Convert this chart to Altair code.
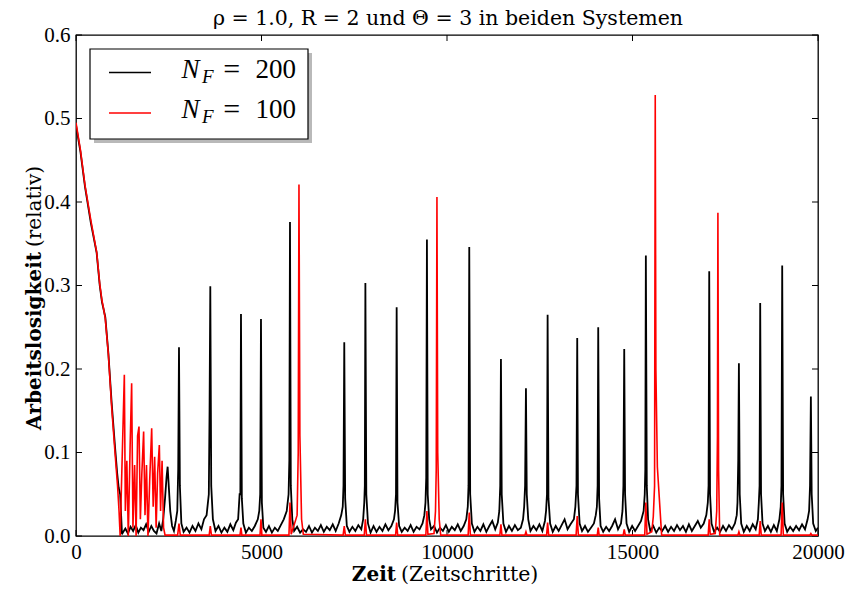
import altair as alt
import pandas as pd

# ---------------- data ----------------
t_black = [0, 120, 243, 400, 557, 640, 700, 736, 790, 872, 960, 1051, 1110, 1150, 1190, 1240,
           1260, 1330, 1400, 1470, 1540, 1610, 1680, 1750, 1820, 1890, 1960, 2030, 2100, 2170, 2240, 2300,
           2350, 2400, 2440, 2470, 2500, 2540, 2590, 2640, 2690,
           2730, 2755, 2776, 2800, 2840, 2900,
           2980, 3060, 3140, 3220, 3300, 3380, 3450,
           3520, 3580, 3600, 3620, 3645, 3690, 3760,
           3840, 3920, 4000, 4080, 4160, 4240, 4310,
           4370, 4410, 4430, 4447, 4470, 4510, 4580,
           4660, 4740, 4820, 4900,
           4940, 4965, 4986, 5010, 5050, 5120,
           5200, 5280, 5360, 5440, 5520, 5600,
           5680, 5730, 5750, 5768, 5790, 5830, 5880,
           5960, 6040, 6120, 6200, 6280, 6360, 6440, 6520, 6600, 6680, 6760, 6840, 6920, 7000, 7080, 7150,
           7190, 7210, 7231, 7255, 7300, 7370,
           7450, 7530, 7610, 7690, 7740,
           7770, 7785, 7800, 7825, 7870, 7940,
           8020, 8100, 8180, 8260, 8340, 8420, 8500, 8570,
           8600, 8625, 8643, 8665, 8710, 8780,
           8860, 8940, 9020, 9100, 9180, 9260, 9340, 9390,
           9420, 9440, 9459, 9480, 9520, 9570,
           9650, 9730, 9810, 9890, 9970, 10050, 10130, 10210, 10290, 10370, 10450, 10520,
           10560, 10580, 10600, 10625, 10670, 10740,
           10820, 10900, 10980, 11060, 11140, 11220, 11300, 11370,
           11410, 11435, 11454, 11475, 11520, 11590,
           11670, 11750, 11830, 11910, 11990, 12050,
           12080, 12105, 12128, 12150, 12190, 12250,
           12330, 12410, 12490, 12570, 12640,
           12670, 12695, 12712, 12735, 12780, 12850,
           12930, 13010, 13090, 13170, 13250, 13330, 13420,
           13460, 13490, 13510, 13530, 13575, 13640,
           13720, 13800, 13880, 13960, 14010,
           14040, 14060, 14076, 14100, 14140, 14210,
           14290, 14370, 14450, 14530, 14610, 14690,
           14730, 14755, 14777, 14800, 14840, 14910,
           14990, 15070, 15150, 15230, 15300,
           15330, 15345, 15360, 15385, 15420, 15480,
           15560, 15640, 15720, 15800, 15880, 15960, 16040, 16120, 16200, 16280, 16360, 16440, 16520,
           16600, 16680, 16760, 16840, 16920, 16990,
           17030, 17050, 17068, 17090, 17130, 17200,
           17280, 17360, 17440, 17520, 17600, 17680, 17760, 17810,
           17830, 17850, 17868, 17890, 17930, 18000,
           18080, 18160, 18240, 18320, 18380,
           18405, 18425, 18442, 18465, 18505, 18570,
           18650, 18730, 18810, 18890, 18960,
           18995, 19015, 19035, 19060, 19100, 19170,
           19250, 19330, 19410, 19490, 19570, 19650, 19720,
           19760, 19785, 19808, 19830, 19870, 19940, 20000]
v_black = [0.492, 0.46, 0.418, 0.375, 0.339, 0.30, 0.28, 0.273, 0.262, 0.219, 0.16, 0.107, 0.075, 0.058, 0.05, 0.002,
           0.004, 0.009, 0.003, 0.011, 0.006, 0.013, 0.004, 0.010, 0.007, 0.014, 0.005, 0.012, 0.006, 0.003, 0.015, 0.006,
           0.02, 0.045, 0.07, 0.083, 0.06, 0.03, 0.012, 0.006, 0.018,
           0.03, 0.08, 0.226, 0.06, 0.015, 0.005,
           0.010, 0.004, 0.012, 0.006, 0.015, 0.008, 0.02,
           0.025, 0.05, 0.15, 0.299, 0.06, 0.02, 0.006,
           0.012, 0.004, 0.010, 0.005, 0.014, 0.007, 0.016,
           0.02, 0.05, 0.05, 0.266, 0.045, 0.015, 0.004,
           0.010, 0.006, 0.012, 0.02,
           0.03, 0.05, 0.26, 0.04, 0.010, 0.005,
           0.012, 0.004, 0.010, 0.006, 0.013, 0.02,
           0.03, 0.05, 0.09, 0.376, 0.06, 0.02, 0.006,
           0.011, 0.004, 0.008, 0.005, 0.012, 0.004, 0.010, 0.006, 0.013, 0.005, 0.011, 0.007, 0.014, 0.006, 0.015, 0.025,
           0.035, 0.06, 0.232, 0.045, 0.012, 0.005,
           0.011, 0.006, 0.013, 0.008, 0.02,
           0.04, 0.06, 0.303, 0.05, 0.015, 0.004,
           0.012, 0.005, 0.011, 0.006, 0.014, 0.007, 0.012, 0.02,
           0.03, 0.05, 0.274, 0.04, 0.012, 0.005,
           0.010, 0.006, 0.013, 0.005, 0.011, 0.008, 0.015, 0.025,
           0.04, 0.07, 0.355, 0.05, 0.02, 0.008,
           0.012, 0.004, 0.010, 0.006, 0.013, 0.005, 0.011, 0.007, 0.014, 0.006, 0.012, 0.02,
           0.035, 0.06, 0.346, 0.05, 0.015, 0.005,
           0.011, 0.006, 0.014, 0.005, 0.012, 0.018, 0.008, 0.016,
           0.03, 0.06, 0.212, 0.05, 0.015, 0.005,
           0.012, 0.006, 0.013, 0.007, 0.010, 0.02,
           0.035, 0.06, 0.177, 0.05, 0.02, 0.006,
           0.012, 0.007, 0.014, 0.006, 0.018,
           0.03, 0.05, 0.265, 0.045, 0.015, 0.005,
           0.012, 0.006, 0.013, 0.02, 0.008, 0.014, 0.02,
           0.035, 0.06, 0.237, 0.05, 0.015, 0.006,
           0.012, 0.005, 0.010, 0.015, 0.025,
           0.035, 0.06, 0.25, 0.045, 0.012, 0.005,
           0.011, 0.006, 0.012, 0.02, 0.008, 0.015,
           0.03, 0.06, 0.224, 0.05, 0.015, 0.005,
           0.012, 0.006, 0.012, 0.018, 0.03,
           0.05, 0.08, 0.336, 0.06, 0.02, 0.006,
           0.012, 0.004, 0.010, 0.006, 0.012, 0.005, 0.011, 0.006, 0.013, 0.007, 0.012, 0.005, 0.014,
           0.006, 0.012, 0.018, 0.010, 0.015, 0.025,
           0.04, 0.06, 0.317, 0.05, 0.015, 0.005,
           0.010, 0.005, 0.012, 0.006, 0.013, 0.008, 0.015, 0.025,
           0.04, 0.09, 0.207, 0.05, 0.015, 0.005,
           0.012, 0.006, 0.014, 0.008, 0.02,
           0.04, 0.06, 0.279, 0.05, 0.015, 0.006,
           0.012, 0.005, 0.013, 0.006, 0.02,
           0.035, 0.06, 0.324, 0.05, 0.015, 0.005,
           0.011, 0.006, 0.012, 0.007, 0.014, 0.008, 0.02,
           0.03, 0.06, 0.167, 0.05, 0.015, 0.006, 0.010]

t_red = [0, 120, 243, 400, 557, 640, 700, 736, 790, 872, 960, 1051, 1120, 1160, 1190,
         1303, 1330, 1370, 1410, 1460, 1500, 1535, 1580, 1620, 1660, 1698, 1735, 1775, 1823, 1860,
         1900, 1940, 1985, 2040, 2080, 2120, 2160, 2200, 2246, 2280, 2320, 2360, 2400,
         2740, 2776, 2810, 3590, 3620, 3650, 4420, 4447, 4470, 4960, 4986, 5010,
         5740, 5768, 5800, 5920, 5960, 5990, 6010, 6035, 6080, 6127,
         7200, 7231, 7260, 7770, 7800, 7830, 8615, 8643, 8670, 9430, 9459, 9485,
         9650, 9690, 9710, 9729, 9750, 9790, 9830,
         10570, 10600, 10630, 11425, 11454, 11480, 12100, 12128, 12155, 12685, 12712, 12740,
         13480, 13510, 13540, 14050, 14076, 14100, 14750, 14777, 14805, 15330, 15360, 15390,
         15520, 15560, 15595, 15613, 15630, 15670, 15785,
         17040, 17068, 17095, 17230, 17270, 17290, 17302, 17320, 17350,
         17840, 17868, 17895, 18415, 18442, 18470, 19005, 19035, 19065, 19780, 19808, 19835, 20000]
v_red = [0.495, 0.462, 0.42, 0.378, 0.34, 0.302, 0.282, 0.274, 0.26, 0.218, 0.155, 0.10, 0.06, 0.03, 0.0,
         0.193, 0.03, 0.09, 0.0, 0.11, 0.183, 0.01, 0.085, 0.0, 0.12, 0.131, 0.02, 0.075, 0.125, 0.025,
         0.085, 0.0, 0.065, 0.129, 0.035, 0.095, 0.01, 0.075, 0.109, 0.03, 0.09, 0.01, 0.001,
         0.001, 0.015, 0.001, 0.001, 0.012, 0.001, 0.001, 0.010, 0.001, 0.001, 0.02, 0.001,
         0.001, 0.04, 0.002, 0.019, 0.025, 0.1, 0.421, 0.12, 0.02, 0.002,
         0.001, 0.012, 0.001, 0.001, 0.02, 0.001, 0.001, 0.016, 0.001, 0.001, 0.03, 0.002,
         0.003, 0.03, 0.08, 0.406, 0.1, 0.02, 0.001,
         0.001, 0.028, 0.001, 0.001, 0.014, 0.001, 0.001, 0.005, 0.001, 0.001, 0.016, 0.001,
         0.001, 0.024, 0.001, 0.001, 0.010, 0.001, 0.001, 0.008, 0.001, 0.001, 0.04, 0.002,
         0.005, 0.023, 0.06, 0.528, 0.2, 0.083, 0.001,
         0.001, 0.02, 0.002, 0.003, 0.03, 0.12, 0.387, 0.08, 0.001,
         0.001, 0.005, 0.001, 0.001, 0.018, 0.001, 0.001, 0.04, 0.001, 0.001, 0.003, 0.001, 0.001]

x_ticks = [0, 5000, 10000, 15000, 20000]
y_ticks = [0.0, 0.1, 0.2, 0.3, 0.4, 0.5, 0.6]

title_text = "ρ = 1.0, R = 2 und Θ = 3 in beiden Systemen"
x_title_bold, x_title_rest = "Zeit", "(Zeitschritte)"
y_title_bold, y_title_rest = "Arbeitslosigkeit", "(relativ)"
legend_values = ["200", "100"]
legend_colors = ["black", "red"]

# ---------------- layout constants ----------------
W, H = 742, 501
SERIF = "DejaVu Serif"
MATH = "Liberation Serif, Times New Roman, Times, serif"

black_df = pd.DataFrame({"t": t_black, "v": v_black})
red_df = pd.DataFrame({"t": t_red, "v": v_red})
xt_df = pd.DataFrame({"t": x_ticks})
yt_df = pd.DataFrame({"v": y_ticks})
one = pd.DataFrame({"k": [0]})

xs = alt.Scale(domain=[0, 20000], nice=False, zero=False)
ys = alt.Scale(domain=[0, 0.6], nice=False, zero=False)
X = alt.X("t:Q", scale=xs, axis=alt.Axis(values=x_ticks, format="d", title=None, labelPadding=5,
                                          labelFlush=False, labelOverlap=False,
                                          labelFont=MATH, labelFontSize=21))
Y = alt.Y("v:Q", scale=ys, axis=alt.Axis(values=y_ticks, format=".1f", title=None, labelPadding=6,
                                          labelFlush=False, labelOverlap=False,
                                          labelFont=MATH, labelFontSize=21))

layers = []

# tick marks (inward, on all four sides)
layers.append(alt.Chart(xt_df).mark_rule(color="black", strokeWidth=1).encode(
    x=X, y=alt.value(H), y2=alt.value(H - 6)))
layers.append(alt.Chart(xt_df).mark_rule(color="black", strokeWidth=1).encode(
    x=X, y=alt.value(0), y2=alt.value(6)))
layers.append(alt.Chart(yt_df).mark_rule(color="black", strokeWidth=1).encode(
    y=Y, x=alt.value(0), x2=alt.value(6)))
layers.append(alt.Chart(yt_df).mark_rule(color="black", strokeWidth=1).encode(
    y=Y, x=alt.value(W), x2=alt.value(W - 6)))

# data lines
layers.append(alt.Chart(black_df).mark_line(color="black", strokeWidth=1.8, clip=True).encode(x=X, y=Y))
layers.append(alt.Chart(red_df).mark_line(color="red", strokeWidth=1.6, clip=True).encode(x=X, y=Y))

# legend box with shadow
layers.append(alt.Chart(one).mark_rect(fill="#7f7f7f", opacity=0.55).encode(
    x=alt.value(18), x2=alt.value(236), y=alt.value(18), y2=alt.value(108)))
layers.append(alt.Chart(one).mark_rect(fill="white", stroke="black", strokeWidth=1.2).encode(
    x=alt.value(14), x2=alt.value(232), y=alt.value(14), y2=alt.value(104)))

row_y = [37.5, 78]
for i, (val, col) in enumerate(zip(legend_values, legend_colors)):
    ly = row_y[i]
    layers.append(alt.Chart(one).mark_rule(color=col, strokeWidth=1.6).encode(
        x=alt.value(33), x2=alt.value(75), y=alt.value(ly), y2=alt.value(ly)))
    base_y = ly + 5.3
    layers.append(alt.Chart(one).mark_text(text="N", font=MATH, fontStyle="italic", fontSize=27,
                                           align="left", baseline="alphabetic", color="black").encode(
        x=alt.value(105.5), y=alt.value(base_y)))
    layers.append(alt.Chart(one).mark_text(text="F", font=MATH, fontStyle="italic", fontSize=19,
                                           align="left", baseline="alphabetic", color="black").encode(
        x=alt.value(126), y=alt.value(base_y + 5)))
    layers.append(alt.Chart(one).mark_text(text="=", font=MATH, fontSize=30,
                                           align="center", baseline="alphabetic", color="black").encode(
        x=alt.value(155.7), y=alt.value(base_y + 1)))
    layers.append(alt.Chart(one).mark_text(text=val, font=MATH, fontSize=27,
                                           align="right", baseline="alphabetic", color="black").encode(
        x=alt.value(220), y=alt.value(base_y)))

# title
layers.append(alt.Chart(one).mark_text(text=title_text, font=SERIF, fontSize=20.5, align="center",
                                       baseline="alphabetic", color="black").encode(
    x=alt.value(372), y=alt.value(-10)))

# x axis title (bold + regular)
layers.append(alt.Chart(one).mark_text(text=x_title_bold, font=SERIF, fontSize=20, fontWeight="bold",
                                       align="right", baseline="alphabetic", color="black").encode(
    x=alt.value(320), y=alt.value(546)))
layers.append(alt.Chart(one).mark_text(text=x_title_rest, font=SERIF, fontSize=20.5,
                                       align="left", baseline="alphabetic", color="black").encode(
    x=alt.value(325), y=alt.value(546)))

# y axis title (rotated)
layers.append(alt.Chart(one).mark_text(text=y_title_bold, font=SERIF, fontSize=20, fontWeight="bold",
                                       angle=270, align="right", baseline="alphabetic", color="black").encode(
    x=alt.value(-35), y=alt.value(217)))
layers.append(alt.Chart(one).mark_text(text=y_title_rest, font=SERIF, fontSize=20,
                                       angle=270, align="left", baseline="alphabetic", color="black").encode(
    x=alt.value(-35), y=alt.value(212)))

chart = alt.layer(*layers).properties(
    width=W, height=H,
    autosize=alt.AutoSizeParams(type="none"),
    padding={"left": 76, "top": 35, "right": 27, "bottom": 54},
).configure_view(stroke="black", strokeWidth=1.3).configure_axis(
    grid=False, domain=False, ticks=False, labelColor="black"
)

chart.save("out.html", embed_options={"renderer": "svg", "actions": False})
